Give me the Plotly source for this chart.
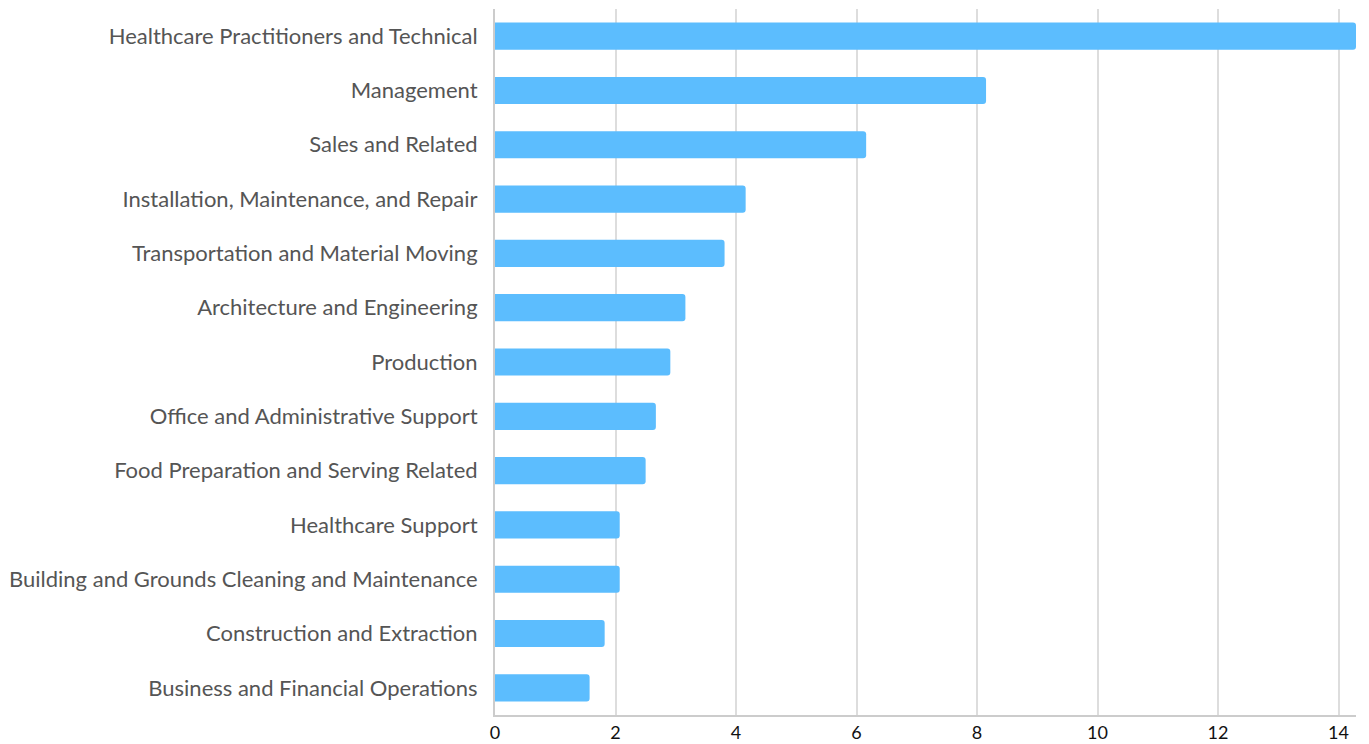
import plotly.graph_objects as go

categories = [
    "Healthcare Practitioners and Technical",
    "Management",
    "Sales and Related",
    "Installation, Maintenance, and Repair",
    "Transportation and Material Moving",
    "Architecture and Engineering",
    "Production",
    "Office and Administrative Support",
    "Food Preparation and Serving Related",
    "Healthcare Support",
    "Building and Grounds Cleaning and Maintenance",
    "Construction and Extraction",
    "Business and Financial Operations",
]
values = [14.29, 8.15, 6.16, 4.16, 3.81, 3.16, 2.91, 2.67, 2.50, 2.07, 2.07, 1.82, 1.57]
x_ticks = [0, 2, 4, 6, 8, 10, 12, 14]

fig = go.Figure(go.Bar(
    x=values,
    y=categories,
    orientation="h",
    marker=dict(color="#5cbdfe", cornerradius=3, line=dict(width=0)),
    width=0.5,
))

fig.update_layout(
    width=1361, height=736,
    margin=dict(l=477, r=13, t=1, b=26),
    paper_bgcolor="white", plot_bgcolor="white",
    font=dict(family="Lato", color="#222"),
    showlegend=False,
    xaxis=dict(
        range=[0, max(values)],
        tickvals=x_ticks,
        showgrid=True, gridcolor="#dddddd", gridwidth=2,
        showline=True, linecolor="#cccccc", linewidth=2,
        zeroline=False, ticks="",
        tickfont=dict(size=18, color="#111"),
    ),
    yaxis=dict(
        categoryorder="array", categoryarray=categories[::-1],
        showline=True, linecolor="#cccccc", linewidth=2,
        showgrid=False, ticks="",
        tickfont=dict(size=22, color="#555"),
        ticklabelstandoff=11,
    ),
)

fig.write_html("out.html")
